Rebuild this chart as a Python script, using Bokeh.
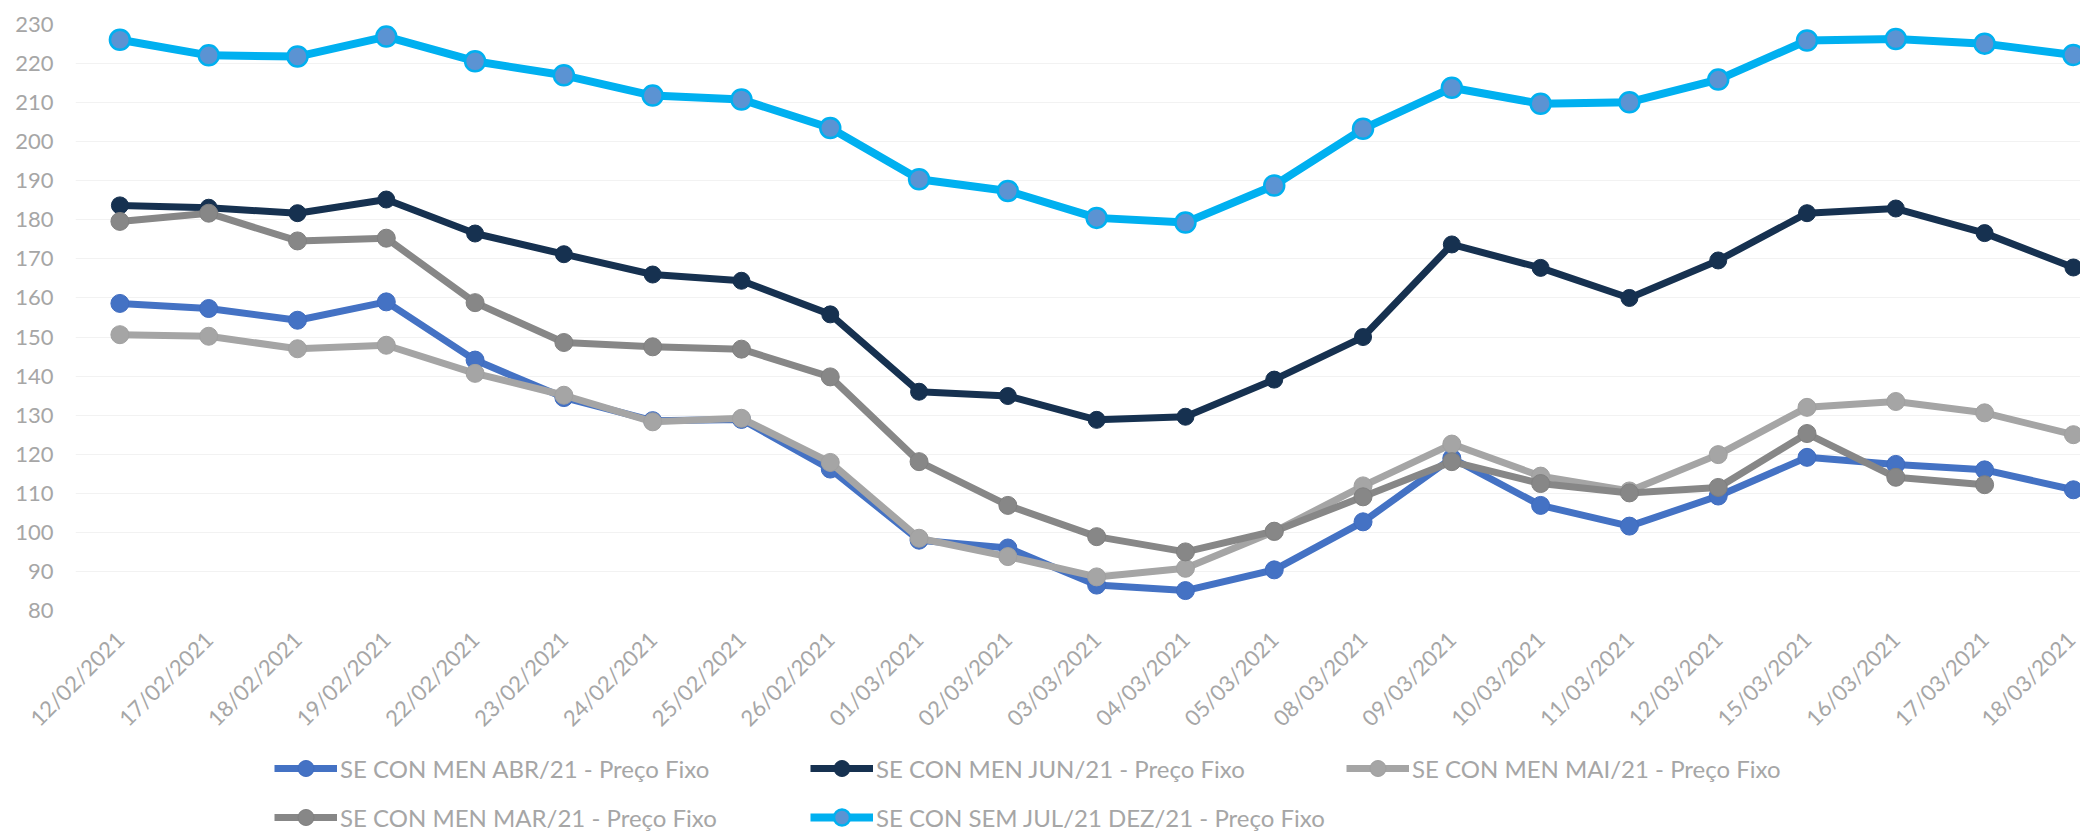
import math
from bokeh.plotting import figure
from bokeh.layouts import column
from bokeh.models import Range1d, FixedTicker, Legend, LegendItem
from bokeh.embed import file_html
from bokeh.resources import INLINE

dates = ["12/02/2021", "17/02/2021", "18/02/2021", "19/02/2021", "22/02/2021",
         "23/02/2021", "24/02/2021", "25/02/2021", "26/02/2021", "01/03/2021",
         "02/03/2021", "03/03/2021", "04/03/2021", "05/03/2021", "08/03/2021",
         "09/03/2021", "10/03/2021", "11/03/2021", "12/03/2021", "15/03/2021",
         "16/03/2021", "17/03/2021", "18/03/2021"]

abr = [158.6, 157.3, 154.3, 159.0, 144.1, 134.5, 128.6, 128.9, 116.2, 98.0,
       96.0, 86.5, 85.1, 90.4, 102.7, 119.0, 106.9, 101.6, 109.3, 119.2,
       117.4, 116.0, 110.9]
jun = [183.7, 183.1, 181.7, 185.2, 176.5, 171.2, 166.0, 164.4, 155.8, 136.0,
       134.9, 128.8, 129.6, 139.1, 150.0, 173.7, 167.7, 160.0, 169.6, 181.7,
       182.9, 176.6, 167.8]
mai = [150.6, 150.2, 147.0, 147.9, 140.7, 135.1, 128.3, 129.2, 117.9, 98.5,
       93.8, 88.6, 90.8, 100.2, 111.9, 122.6, 114.4, 110.6, 119.9, 132.0,
       133.5, 130.6, 125.0]
mar = [179.6, 181.7, 174.6, 175.3, 158.8, 148.6, 147.5, 146.9, 139.8, 118.1,
       106.9, 98.9, 95.0, 100.3, 109.1, 118.1, 112.5, 110.1, 111.5, 125.3,
       114.1, 112.2]
sem = [226.1, 222.1, 221.8, 226.9, 220.6, 217.0, 211.8, 210.8, 203.5, 190.4,
       187.4, 180.5, 179.3, 188.8, 203.3, 213.8, 209.7, 210.1, 215.9, 225.9,
       226.3, 225.1, 222.2]

y_ticks = [80, 90, 100, 110, 120, 130, 140, 150, 160, 170, 180, 190, 200, 210, 220, 230]

labels = ["SE CON MEN ABR/21 - Preço Fixo",
          "SE CON MEN JUN/21 - Preço Fixo",
          "SE CON MEN MAI/21 - Preço Fixo",
          "SE CON MEN MAR/21 - Preço Fixo",
          "SE CON SEM JUL/21 DEZ/21 - Preço Fixo"]

FONT = "Lato"
TXT = "#A6A6A6"

p = figure(width=2080, height=745, output_backend="svg", toolbar_location=None,
           x_range=Range1d(-0.5, 22.08), y_range=Range1d(80, 230),
           min_border_left=75, min_border_right=0, min_border_top=24,
           min_border_bottom=135)
p.outline_line_color = None
p.background_fill_color = "white"
p.border_fill_color = "white"

# axes
p.xaxis.ticker = FixedTicker(ticks=list(range(len(dates))))
p.xaxis.major_label_overrides = {i: d for i, d in enumerate(dates)}
p.xaxis.major_label_orientation = math.pi / 4
p.xaxis.axis_line_color = None
p.xaxis.major_tick_line_color = None
p.xaxis.minor_tick_line_color = None
p.xaxis.major_tick_out = 0
p.xaxis.major_tick_in = 0
p.xaxis.minor_tick_out = 0
p.xaxis.minor_tick_in = 0
p.xaxis.major_label_standoff = 25
p.xaxis.major_label_text_font = FONT
p.xaxis.major_label_text_font_size = "22px"
p.xaxis.major_label_text_color = TXT

p.yaxis.ticker = FixedTicker(ticks=y_ticks)
p.yaxis.axis_line_color = None
p.yaxis.major_tick_line_color = None
p.yaxis.minor_tick_line_color = None
p.yaxis.major_tick_out = 0
p.yaxis.major_tick_in = 0
p.yaxis.major_label_standoff = 22
p.yaxis.major_label_text_font = FONT
p.yaxis.major_label_text_font_size = "22px"
p.yaxis.major_label_text_color = TXT

p.xgrid.visible = False
p.ygrid.grid_line_color = "#F2F2F2"
p.ygrid.grid_line_width = 1

series = [
    (abr, "#4472C4", "#4472C4", "#3F6CC0", 7, 18),
    (jun, "#163150", "#163150", "#163150", 7, 17),
    (mai, "#A5A5A5", "#A5A5A5", "#A0A0A0", 7, 18),
    (mar, "#878787", "#878787", "#808080", 7, 18),
    (sem, "#00B0F0", "#5B93D3", "#00B0F0", 8, 20),
]

# legend host figure placed below the chart
p2 = figure(width=2080, height=89, output_backend="svg", toolbar_location=None,
            x_range=Range1d(-0.5, 22.08), y_range=Range1d(0, 1),
            x_axis_location=None, y_axis_location=None,
            min_border_left=0, min_border_right=0, min_border_top=0,
            min_border_bottom=0)
p2.outline_line_color = None
p2.background_fill_color = "white"
p2.border_fill_color = "white"
p2.xgrid.visible = False
p2.ygrid.visible = False

items = []
for (vals, lc, fc, oc, lw, ms), lab in zip(series, labels):
    xs = list(range(len(vals)))
    olw = 2.5 if lc == "#00B0F0" else 1
    p.line(xs, vals, line_color=lc, line_width=lw, line_join="round")
    p.scatter(xs, vals, marker="circle", size=ms, fill_color=fc,
              line_color=oc, line_width=olw)
    # same series in the legend host (outside its visible range, only for the key)
    lr = p2.line(xs, vals, line_color=lc, line_width=lw, line_join="round")
    sr = p2.scatter(xs, vals, marker="circle", size=ms, fill_color=fc,
                    line_color=oc, line_width=olw)
    items.append(LegendItem(label=lab, renderers=[lr, sr]))


def make_legend(its, vy):
    return Legend(items=its, location=(199, vy), orientation="horizontal",
                  glyph_width=63, glyph_height=40, label_standoff=3,
                  label_width=470, spacing=0, padding=0, margin=0,
                  label_text_font=FONT, label_text_font_size="24px",
                  label_text_color=TXT, border_line_color=None,
                  background_fill_alpha=0)


p2.add_layout(make_legend(items[:3], 46))
p2.add_layout(make_legend(items[3:], -3))

layout = column(p, p2, spacing=0)
open("out.html", "w").write(file_html(layout, INLINE))
